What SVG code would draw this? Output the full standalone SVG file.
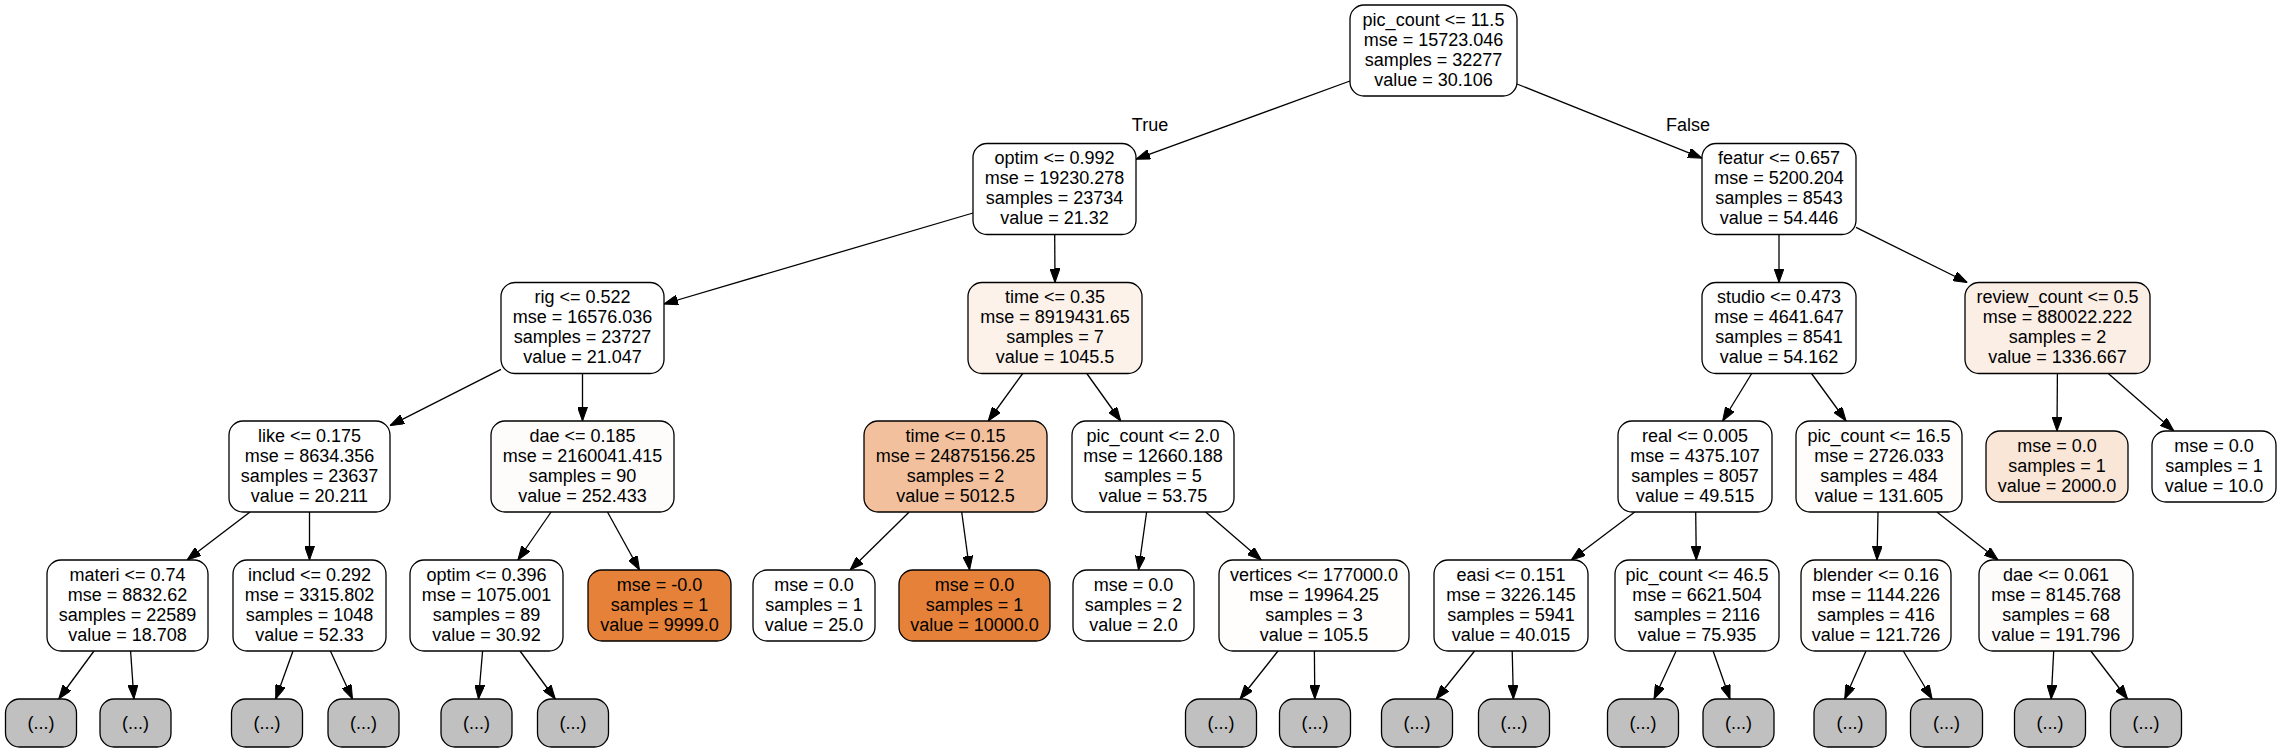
<svg xmlns="http://www.w3.org/2000/svg" width="2279" height="752" viewBox="0 0 2279 752">
<style>
.n rect{stroke:#000;stroke-width:1.3}
.w{fill:#fff}
.g{fill:#c0c0c0}
text{font-family:"Liberation Sans",Arial,Helvetica,sans-serif;font-size:18px;text-anchor:middle;fill:#000}
#edges line{stroke:#000;stroke-width:1.3;marker-end:url(#ah)}
</style>
<defs>
<marker id="ah" markerUnits="userSpaceOnUse" markerWidth="14" markerHeight="10" refX="14" refY="5" orient="auto"><path d="M0,0 L14,5 L0,10 z" fill="#000" stroke="#000" stroke-width="1"/></marker>
</defs>
<rect width="2279" height="752" fill="#fff"/>
<g id="edges">
<line x1="1350" y1="81" x2="1136" y2="159.2"/>
<line x1="1517" y1="84" x2="1702" y2="158.1"/>
<line x1="973" y1="213" x2="664" y2="304"/>
<line x1="1054.7" y1="234.5" x2="1055" y2="282.5"/>
<line x1="1779" y1="234.5" x2="1779" y2="282.5"/>
<line x1="1856" y1="227.4" x2="1967.3" y2="282.5"/>
<line x1="501" y1="369.3" x2="390" y2="425.7"/>
<line x1="582.5" y1="373.5" x2="582.5" y2="421"/>
<line x1="1022.7" y1="373.5" x2="988.2" y2="421"/>
<line x1="1086.8" y1="373.5" x2="1120.8" y2="421"/>
<line x1="1751.7" y1="373.5" x2="1722.6" y2="421"/>
<line x1="1811.5" y1="373.5" x2="1846.1" y2="421"/>
<line x1="2057.4" y1="373.5" x2="2057" y2="431"/>
<line x1="2108.3" y1="373.5" x2="2173.9" y2="431"/>
<line x1="250" y1="512" x2="187" y2="560"/>
<line x1="309.5" y1="512" x2="309.5" y2="560"/>
<line x1="551.1" y1="512" x2="517.9" y2="560"/>
<line x1="607.5" y1="512" x2="639.5" y2="570"/>
<line x1="909.2" y1="512" x2="850.1" y2="570"/>
<line x1="961.7" y1="512" x2="969.6" y2="570"/>
<line x1="1146.6" y1="512" x2="1138.5" y2="570"/>
<line x1="1205.7" y1="512" x2="1261.3" y2="560"/>
<line x1="1634.8" y1="512" x2="1571.2" y2="560"/>
<line x1="1695.7" y1="512" x2="1696.3" y2="560"/>
<line x1="1878" y1="512" x2="1877" y2="560"/>
<line x1="1936.9" y1="512" x2="1998.1" y2="560"/>
<line x1="94" y1="651" x2="58.7" y2="699"/>
<line x1="130.6" y1="651" x2="133.9" y2="699"/>
<line x1="293" y1="651" x2="275.7" y2="699"/>
<line x1="330.4" y1="651" x2="352.5" y2="699"/>
<line x1="482.6" y1="651" x2="478.5" y2="699"/>
<line x1="520" y1="651" x2="555.3" y2="699"/>
<line x1="1278" y1="651" x2="1240" y2="699"/>
<line x1="1314.4" y1="651" x2="1314.8" y2="699"/>
<line x1="1474.6" y1="651" x2="1436.2" y2="699"/>
<line x1="1512.2" y1="651" x2="1513.4" y2="699"/>
<line x1="1676.1" y1="651" x2="1654" y2="699"/>
<line x1="1713.1" y1="651" x2="1730" y2="699"/>
<line x1="1866" y1="651" x2="1844.7" y2="699"/>
<line x1="1903.3" y1="651" x2="1932.1" y2="699"/>
<line x1="2053.7" y1="651" x2="2051.2" y2="699"/>
<line x1="2090.8" y1="651" x2="2127.6" y2="699"/>
<text x="1150" y="131">True</text>
<text x="1688" y="131">False</text>
</g>

<g id="n0" class="n"><rect class="w" x="1350" y="5" width="167" height="91" rx="14"/><text x="1433.5" y="25.5">pic_count &lt;= 11.5</text><text x="1433.5" y="45.5">mse = 15723.046</text><text x="1433.5" y="65.5">samples = 32277</text><text x="1433.5" y="85.5">value = 30.106</text></g>

<g id="n1" class="n"><rect class="w" x="973" y="143.5" width="163" height="91" rx="14"/><text x="1054.5" y="164">optim &lt;= 0.992</text><text x="1054.5" y="184">mse = 19230.278</text><text x="1054.5" y="204">samples = 23734</text><text x="1054.5" y="224">value = 21.32</text></g>

<g id="n2" class="n"><rect class="w" x="1702" y="143.5" width="154" height="91" rx="14"/><text x="1779" y="164">featur &lt;= 0.657</text><text x="1779" y="184">mse = 5200.204</text><text x="1779" y="204">samples = 8543</text><text x="1779" y="224">value = 54.446</text></g>

<g id="n3" class="n"><rect class="w" x="501" y="282.5" width="163" height="91" rx="14"/><text x="582.5" y="303">rig &lt;= 0.522</text><text x="582.5" y="323">mse = 16576.036</text><text x="582.5" y="343">samples = 23727</text><text x="582.5" y="363">value = 21.047</text></g>

<g id="n4" class="n"><rect x="968" y="282.5" width="174" height="91" rx="14" fill="#fcf2ea"/><text x="1055" y="303">time &lt;= 0.35</text><text x="1055" y="323">mse = 8919431.65</text><text x="1055" y="343">samples = 7</text><text x="1055" y="363">value = 1045.5</text></g>

<g id="n5" class="n"><rect class="w" x="1702" y="282.5" width="154" height="91" rx="14"/><text x="1779" y="303">studio &lt;= 0.473</text><text x="1779" y="323">mse = 4641.647</text><text x="1779" y="343">samples = 8541</text><text x="1779" y="363">value = 54.162</text></g>

<g id="n6" class="n"><rect x="1965" y="282.5" width="185" height="91" rx="14" fill="#fbeee5"/><text x="2057.5" y="303">review_count &lt;= 0.5</text><text x="2057.5" y="323">mse = 880022.222</text><text x="2057.5" y="343">samples = 2</text><text x="2057.5" y="363">value = 1336.667</text></g>

<g id="n7" class="n"><rect class="w" x="229" y="421" width="161" height="91" rx="14"/><text x="309.5" y="441.5">like &lt;= 0.175</text><text x="309.5" y="461.5">mse = 8634.356</text><text x="309.5" y="481.5">samples = 23637</text><text x="309.5" y="501.5">value = 20.211</text></g>

<g id="n8" class="n"><rect x="491" y="421" width="183" height="91" rx="14" fill="#fefcfa"/><text x="582.5" y="441.5">dae &lt;= 0.185</text><text x="582.5" y="461.5">mse = 2160041.415</text><text x="582.5" y="481.5">samples = 90</text><text x="582.5" y="501.5">value = 252.433</text></g>

<g id="n9" class="n"><rect x="864" y="421" width="183" height="91" rx="14" fill="#f2c09c"/><text x="955.5" y="441.5">time &lt;= 0.15</text><text x="955.5" y="461.5">mse = 24875156.25</text><text x="955.5" y="481.5">samples = 2</text><text x="955.5" y="501.5">value = 5012.5</text></g>

<g id="n10" class="n"><rect class="w" x="1072" y="421" width="162" height="91" rx="14"/><text x="1153" y="441.5">pic_count &lt;= 2.0</text><text x="1153" y="461.5">mse = 12660.188</text><text x="1153" y="481.5">samples = 5</text><text x="1153" y="501.5">value = 53.75</text></g>

<g id="n11" class="n"><rect class="w" x="1618" y="421" width="154" height="91" rx="14"/><text x="1695" y="441.5">real &lt;= 0.005</text><text x="1695" y="461.5">mse = 4375.107</text><text x="1695" y="481.5">samples = 8057</text><text x="1695" y="501.5">value = 49.515</text></g>

<g id="n12" class="n"><rect x="1796" y="421" width="166" height="91" rx="14" fill="#fefdfc"/><text x="1879" y="441.5">pic_count &lt;= 16.5</text><text x="1879" y="461.5">mse = 2726.033</text><text x="1879" y="481.5">samples = 484</text><text x="1879" y="501.5">value = 131.605</text></g>

<g id="n13" class="n"><rect x="1986" y="431" width="142" height="71" rx="14" fill="#fae6d7"/><text x="2057" y="451.5">mse = 0.0</text><text x="2057" y="471.5">samples = 1</text><text x="2057" y="491.5">value = 2000.0</text></g>

<g id="n14" class="n"><rect class="w" x="2152" y="431" width="124" height="71" rx="14"/><text x="2214" y="451.5">mse = 0.0</text><text x="2214" y="471.5">samples = 1</text><text x="2214" y="491.5">value = 10.0</text></g>

<g id="n15" class="n"><rect class="w" x="47" y="560" width="161" height="91" rx="14"/><text x="127.5" y="580.5">materi &lt;= 0.74</text><text x="127.5" y="600.5">mse = 8832.62</text><text x="127.5" y="620.5">samples = 22589</text><text x="127.5" y="640.5">value = 18.708</text></g>

<g id="n16" class="n"><rect class="w" x="233" y="560" width="153" height="91" rx="14"/><text x="309.5" y="580.5">includ &lt;= 0.292</text><text x="309.5" y="600.5">mse = 3315.802</text><text x="309.5" y="620.5">samples = 1048</text><text x="309.5" y="640.5">value = 52.33</text></g>

<g id="n17" class="n"><rect class="w" x="410" y="560" width="153" height="91" rx="14"/><text x="486.5" y="580.5">optim &lt;= 0.396</text><text x="486.5" y="600.5">mse = 1075.001</text><text x="486.5" y="620.5">samples = 89</text><text x="486.5" y="640.5">value = 30.92</text></g>

<g id="n18" class="n"><rect x="588" y="570" width="143" height="71" rx="14" fill="#e58139"/><text x="659.5" y="590.5">mse = -0.0</text><text x="659.5" y="610.5">samples = 1</text><text x="659.5" y="630.5">value = 9999.0</text></g>

<g id="n19" class="n"><rect class="w" x="753" y="570" width="122" height="71" rx="14"/><text x="814" y="590.5">mse = 0.0</text><text x="814" y="610.5">samples = 1</text><text x="814" y="630.5">value = 25.0</text></g>

<g id="n20" class="n"><rect x="899" y="570" width="151" height="71" rx="14" fill="#e58139"/><text x="974.5" y="590.5">mse = 0.0</text><text x="974.5" y="610.5">samples = 1</text><text x="974.5" y="630.5">value = 10000.0</text></g>

<g id="n21" class="n"><rect class="w" x="1073" y="570" width="121" height="71" rx="14"/><text x="1133.5" y="590.5">mse = 0.0</text><text x="1133.5" y="610.5">samples = 2</text><text x="1133.5" y="630.5">value = 2.0</text></g>

<g id="n22" class="n"><rect x="1219" y="560" width="190" height="91" rx="14" fill="#fffefd"/><text x="1314" y="580.5">vertices &lt;= 177000.0</text><text x="1314" y="600.5">mse = 19964.25</text><text x="1314" y="620.5">samples = 3</text><text x="1314" y="640.5">value = 105.5</text></g>

<g id="n23" class="n"><rect class="w" x="1434" y="560" width="154" height="91" rx="14"/><text x="1511" y="580.5">easi &lt;= 0.151</text><text x="1511" y="600.5">mse = 3226.145</text><text x="1511" y="620.5">samples = 5941</text><text x="1511" y="640.5">value = 40.015</text></g>

<g id="n24" class="n"><rect class="w" x="1615" y="560" width="164" height="91" rx="14"/><text x="1697" y="580.5">pic_count &lt;= 46.5</text><text x="1697" y="600.5">mse = 6621.504</text><text x="1697" y="620.5">samples = 2116</text><text x="1697" y="640.5">value = 75.935</text></g>

<g id="n25" class="n"><rect x="1801" y="560" width="150" height="91" rx="14" fill="#fffefd"/><text x="1876" y="580.5">blender &lt;= 0.16</text><text x="1876" y="600.5">mse = 1144.226</text><text x="1876" y="620.5">samples = 416</text><text x="1876" y="640.5">value = 121.726</text></g>

<g id="n26" class="n"><rect x="1979" y="560" width="154" height="91" rx="14" fill="#fefcfb"/><text x="2056" y="580.5">dae &lt;= 0.061</text><text x="2056" y="600.5">mse = 8145.768</text><text x="2056" y="620.5">samples = 68</text><text x="2056" y="640.5">value = 191.796</text></g>

<g id="l1" class="n"><rect class="g" x="5.5" y="699" width="71" height="48" rx="14"/><text x="41" y="729">(...)</text></g>
<g id="l2" class="n"><rect class="g" x="100" y="699" width="71" height="48" rx="14"/><text x="135.5" y="729">(...)</text></g>
<g id="l3" class="n"><rect class="g" x="231.5" y="699" width="71" height="48" rx="14"/><text x="267" y="729">(...)</text></g>
<g id="l4" class="n"><rect class="g" x="328" y="699" width="71" height="48" rx="14"/><text x="363.5" y="729">(...)</text></g>
<g id="l5" class="n"><rect class="g" x="441" y="699" width="71" height="48" rx="14"/><text x="476.5" y="729">(...)</text></g>
<g id="l6" class="n"><rect class="g" x="537.5" y="699" width="71" height="48" rx="14"/><text x="573" y="729">(...)</text></g>
<g id="l7" class="n"><rect class="g" x="1185.5" y="699" width="71" height="48" rx="14"/><text x="1221" y="729">(...)</text></g>
<g id="l8" class="n"><rect class="g" x="1279.5" y="699" width="71" height="48" rx="14"/><text x="1315" y="729">(...)</text></g>
<g id="l9" class="n"><rect class="g" x="1381.5" y="699" width="71" height="48" rx="14"/><text x="1417" y="729">(...)</text></g>
<g id="l10" class="n"><rect class="g" x="1478.5" y="699" width="71" height="48" rx="14"/><text x="1514" y="729">(...)</text></g>
<g id="l11" class="n"><rect class="g" x="1607.5" y="699" width="71" height="48" rx="14"/><text x="1643" y="729">(...)</text></g>
<g id="l12" class="n"><rect class="g" x="1703" y="699" width="71" height="48" rx="14"/><text x="1738.5" y="729">(...)</text></g>
<g id="l13" class="n"><rect class="g" x="1814" y="699" width="72" height="48" rx="14"/><text x="1850" y="729">(...)</text></g>
<g id="l14" class="n"><rect class="g" x="1910.5" y="699" width="72" height="48" rx="14"/><text x="1946.5" y="729">(...)</text></g>
<g id="l15" class="n"><rect class="g" x="2014.5" y="699" width="71" height="48" rx="14"/><text x="2050" y="729">(...)</text></g>
<g id="l16" class="n"><rect class="g" x="2110.5" y="699" width="71" height="48" rx="14"/><text x="2146" y="729">(...)</text></g>
</svg>
